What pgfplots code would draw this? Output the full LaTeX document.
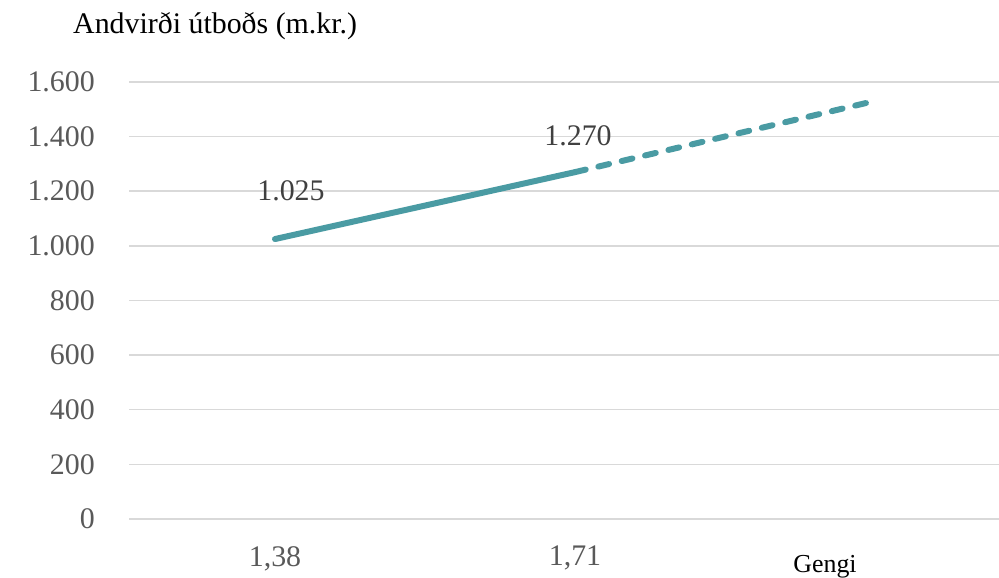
\documentclass[border=0pt]{standalone}
\usepackage{pgfplots}
\pgfplotsset{compat=1.18}
\usepackage{fontspec}
\setmainfont{Liberation Serif}
\definecolor{lineteal}{HTML}{4A9BA3}
\definecolor{gridgray}{HTML}{D9D9D9}
\definecolor{ticktext}{HTML}{595959}
\definecolor{labeltext}{HTML}{404040}

\begin{document}
\begin{tikzpicture}
\useasboundingbox (0,0) rectangle (999bp,578bp);
\begin{axis}[
  at={(129bp,59bp)}, anchor=south west,
  width=870bp, height=437bp, scale only axis,
  xmin=-0.4867, xmax=2.4133,
  ymin=0, ymax=1600,
  ytick={0,200,...,1600},
  xtick={0,1}, xticklabels={{1,38},{1,71}},
  axis line style={draw=none},
  ymajorgrids, grid style={gridgray, line width=1.5bp},
  major tick length=0pt,
  tick label style={font=\fontsize{30}{35}\selectfont, text=ticktext, inner sep=0pt},
  yticklabel style={anchor=east, xshift=-34bp,
    /pgf/number format/.cd, 1000 sep={.}, assume math mode=true},
  xticklabel style={anchor=north, yshift=-27bp},
  clip=false,
]
% measured range
\addplot[lineteal, line width=6bp, line cap=round] coordinates {(0,1025) (1,1270)};
% projected range
\addplot[lineteal, line width=6bp, line cap=round, dash pattern=on 11bp off 13bp]
  coordinates {(1,1270) (1.97,1523)};
\node[text=labeltext, font=\fontsize{30}{35}\selectfont, inner sep=0pt]
  at (axis cs:0,1025) [xshift=16bp, yshift=48bp] {1.025};
\node[text=labeltext, font=\fontsize{30}{35}\selectfont, inner sep=0pt]
  at (axis cs:1,1270) [xshift=3bp, yshift=36bp] {1.270};
\end{axis}
\node[anchor=west, inner sep=0pt, font=\fontsize{30}{35}\selectfont] at (73bp,552bp) {Andvirði útboðs (m.kr.)};
\node[inner sep=0pt, font=\fontsize{26}{31}\selectfont] at (825bp,11bp) {Gengi};
\end{tikzpicture}
\end{document}
